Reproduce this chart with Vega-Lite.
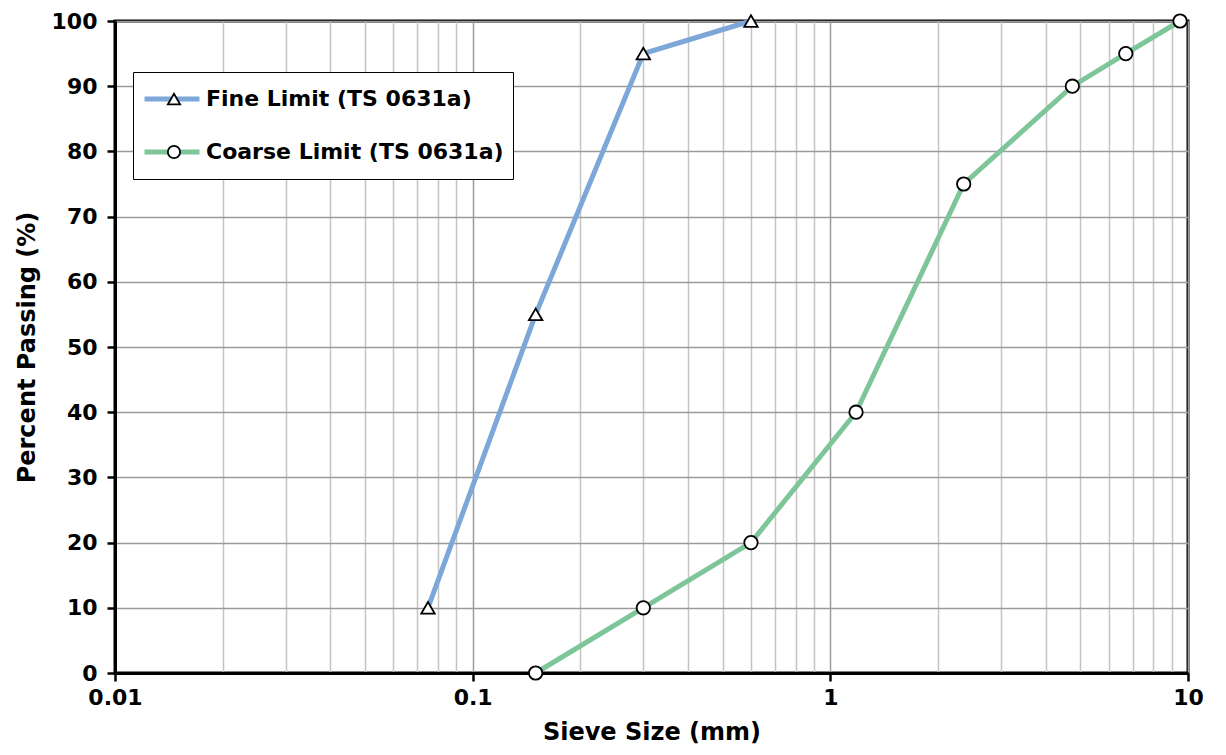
{
  "$schema": "https://vega.github.io/schema/vega-lite/v6.json",
  "autosize": "none",
  "padding": {"left": 115, "top": 21, "right": 38, "bottom": 82},
  "width": 1073,
  "height": 652,
  "background": "white",
  "data": {
    "values": [
      {"series": "Fine Limit (TS 0631a)", "size": 0.075, "passing": 10},
      {"series": "Fine Limit (TS 0631a)", "size": 0.15, "passing": 55},
      {"series": "Fine Limit (TS 0631a)", "size": 0.3, "passing": 95},
      {"series": "Fine Limit (TS 0631a)", "size": 0.6, "passing": 100},
      {"series": "Coarse Limit (TS 0631a)", "size": 0.15, "passing": 0},
      {"series": "Coarse Limit (TS 0631a)", "size": 0.3, "passing": 10},
      {"series": "Coarse Limit (TS 0631a)", "size": 0.6, "passing": 20},
      {"series": "Coarse Limit (TS 0631a)", "size": 1.18, "passing": 40},
      {"series": "Coarse Limit (TS 0631a)", "size": 2.36, "passing": 75},
      {"series": "Coarse Limit (TS 0631a)", "size": 4.75, "passing": 90},
      {"series": "Coarse Limit (TS 0631a)", "size": 6.7, "passing": 95},
      {"series": "Coarse Limit (TS 0631a)", "size": 9.5, "passing": 100}
    ]
  },
  "encoding": {
    "x": {
      "field": "size", "type": "quantitative",
      "scale": {"type": "log", "domain": [0.01, 10], "nice": false},
      "axis": {
        "title": "Sieve Size (mm)",
        "values": [0.01,0.02,0.03,0.04,0.05,0.06,0.07,0.08,0.09,0.1,0.2,0.3,0.4,0.5,0.6,0.7,0.8,0.9,1,2,3,4,5,6,7,8,9,10],
        "labelExpr": "abs(log(datum.value)/LN10 - round(log(datum.value)/LN10)) < 0.000001 ? datum.label : ''",
        "format": "~g",
        "labelOverlap": false,
        "labelFlush": false,
        "tickOpacity": {"condition": {"test": "abs(log(datum.value)/LN10 - round(log(datum.value)/LN10)) < 0.000001", "value": 1}, "value": 0},
        "gridColor": {"condition": {"test": "abs(log(datum.value)/LN10 - round(log(datum.value)/LN10)) < 0.000001", "value": "#9a9a9a"}, "value": "#c4c4c4"},
        "tickSize": 8,
        "labelPadding": 6,
        "titlePadding": 12
      }
    },
    "y": {
      "field": "passing", "type": "quantitative",
      "scale": {"domain": [0, 100], "nice": false, "zero": true},
      "axis": {
        "title": "Percent Passing (%)",
        "values": [0,10,20,30,40,50,60,70,80,90,100],
        "gridColor": "#9a9a9a",
        "tickSize": 8,
        "labelPadding": 10,
        "titlePadding": 12
      }
    }
  },
  "layer": [
    {
      "mark": {"type": "line", "strokeWidth": 5, "clip": false},
      "encoding": {
        "color": {
          "field": "series", "type": "nominal",
          "scale": {"domain": ["Fine Limit (TS 0631a)", "Coarse Limit (TS 0631a)"], "range": ["#7da7d9", "#7ec699"]},
          "legend": {
            "orient": "none", "legendX": 18, "legendY": 51, "title": null,
            "symbolType": "stroke", "symbolSize": 3025, "symbolStrokeWidth": 5,
            "labelFont": "DejaVu Sans", "labelFontSize": 22, "labelFontWeight": "bold", "labelColor": "black",
            "labelOffset": 4, "padding": 9, "rowPadding": 17, "clipHeight": 36,
            "fillColor": "white", "strokeColor": "black", "zindex": 1, "labelLimit": 400
          }
        }
      }
    },
    {
      "mark": {"type": "point", "filled": true, "strokeWidth": 1.8, "size": 180, "opacity": 1, "clip": false},
      "encoding": {
        "shape": {
          "field": "series", "type": "nominal",
          "scale": {"domain": ["Coarse Limit (TS 0631a)", "Fine Limit (TS 0631a)"], "range": ["circle", "triangle-up"]},
          "legend": null
        },
        "fill": {
          "field": "series", "type": "nominal",
          "scale": {"range": ["white", "white"]},
          "legend": {
            "orient": "none", "legendX": 18, "legendY": 51, "title": null,
            "values": ["Fine Limit (TS 0631a)"],
            "symbolType": "triangle-up", "symbolSize": 150,
            "symbolFillColor": "white", "symbolStrokeColor": "black", "symbolStrokeWidth": 1.8,
            "symbolOffset": 21, "labelExpr": "''", "labelFontSize": 22,
            "padding": 9, "clipHeight": 36, "zindex": 2
          }
        },
        "stroke": {
          "field": "series", "type": "nominal",
          "scale": {"domain": ["Coarse Limit (TS 0631a)", "Fine Limit (TS 0631a)", "Limit"], "range": ["black", "black", "black"]},
          "legend": {
            "orient": "none", "legendX": 18, "legendY": 104, "title": null,
            "values": ["Coarse Limit (TS 0631a)"],
            "symbolType": "circle", "symbolSize": 150,
            "symbolFillColor": "white", "symbolStrokeColor": "black", "symbolStrokeWidth": 1.8,
            "symbolOffset": 21, "labelExpr": "''", "labelFontSize": 22,
            "padding": 9, "clipHeight": 36, "zindex": 2
          }
        }
      }
    }
  ],
  "config": {
    "view": {"stroke": "black", "strokeWidth": 3},
    "axis": {
      "domainColor": "black", "domainWidth": 3,
      "tickColor": "black", "tickWidth": 2.5,
      "gridWidth": 1.5,
      "labelFont": "DejaVu Sans", "labelFontSize": 22, "labelFontWeight": "bold", "labelColor": "black",
      "titleFont": "DejaVu Sans", "titleFontSize": 24, "titleFontWeight": "bold", "titleColor": "black"
    }
  }
}
